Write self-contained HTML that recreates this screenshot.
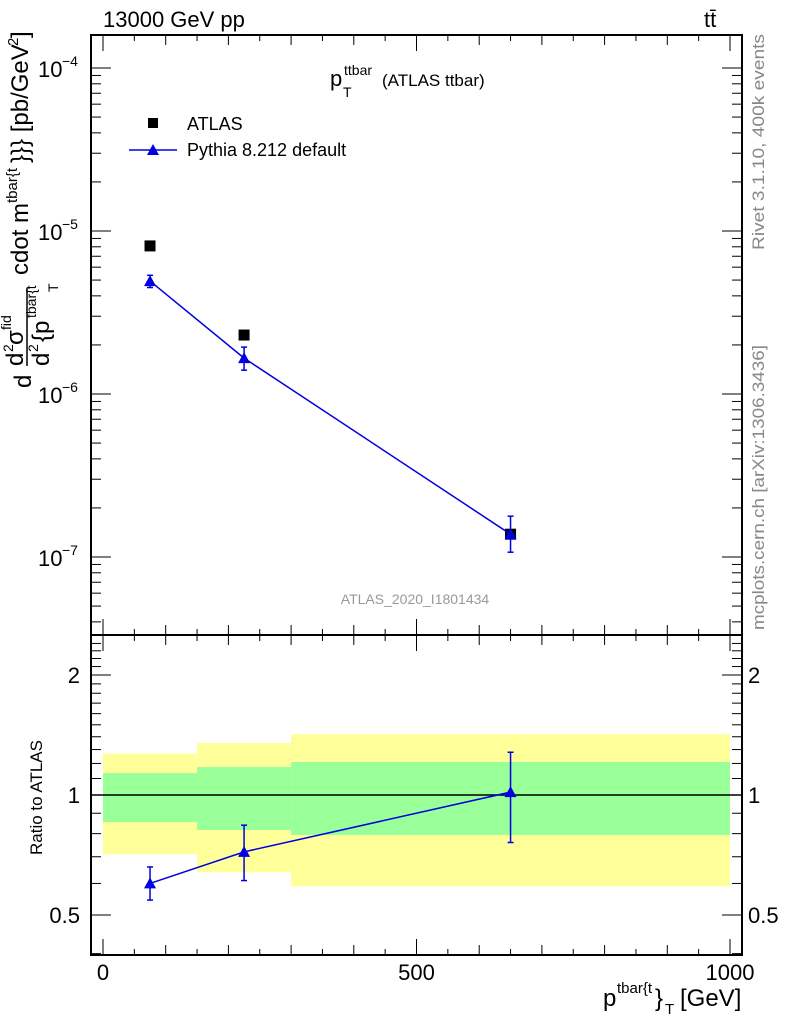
<!DOCTYPE html>
<html><head><meta charset="utf-8"><style>
html,body{margin:0;padding:0;background:#fff;}
svg{display:block;font-family:"Liberation Sans",sans-serif;}
</style></head><body>
<svg id="chart" width="786" height="1024" viewBox="0 0 786 1024" xmlns="http://www.w3.org/2000/svg">
<g id="bands"></g>
<g id="axes"></g>
<g id="marks"></g>
<text x="103" y="27" font-size="22">13000 GeV pp</text>
<text x="704" y="27" font-size="22">tt̄</text>
<g>
<text x="330" y="86" font-size="22">p</text>
<text x="344" y="75" font-size="14">ttbar</text>
<text x="343" y="97" font-size="14">T</text>
<text x="382" y="86" font-size="17">(ATLAS ttbar)</text>
</g>
<text x="415" y="604" font-size="14" fill="#999" text-anchor="middle">ATLAS_2020_I1801434</text>
<text transform="translate(764,250) rotate(-90)" font-size="17" fill="#888" textLength="216" lengthAdjust="spacingAndGlyphs">Rivet 3.1.10,  400k events</text>
<text transform="translate(764,630) rotate(-90)" font-size="17" fill="#888" textLength="285" lengthAdjust="spacingAndGlyphs">mcplots.cern.ch [arXiv:1306.3436]</text>
<g transform="rotate(-90)" font-size="24">
<text x="-388" y="31">d</text>
<text x="-366" y="23">d</text>
<text x="-352" y="13" font-size="14">2</text>
<text x="-345" y="23">σ</text>
<text x="-330" y="11" font-size="14">fid</text>
<line x1="-366" y1="27" x2="-288" y2="27" stroke="#000" stroke-width="1.5"/>
<text x="-366" y="49">d</text>
<text x="-352" y="38" font-size="14">2</text>
<text x="-342" y="49">{p</text>
<text x="-318" y="36" font-size="14">tbar{t</text>
<text x="-292" y="58" font-size="14">T</text>
<text x="-275" y="28">cdot m</text>
<text x="-203" y="17" font-size="15">tbar{t</text>
<text x="-163" y="28">}}} [pb/GeV</text>
<text x="-46" y="18" font-size="15">2</text>
<text x="-38" y="28">]</text>
</g>
<text transform="translate(42,855) rotate(-90)" font-size="17">Ratio to ATLAS</text>
<g font-size="24">
<text x="603" y="1006">p</text>
<text x="617" y="993" font-size="15">tbar{t</text>
<text x="655" y="1006">}</text>
<text x="665" y="1014" font-size="15">T</text>
<text x="680" y="1006">[GeV]</text>
</g>
<g>
<rect x="148" y="118" width="10" height="10" fill="#000"/>
<text x="187" y="130" font-size="18">ATLAS</text>
<line x1="129" y1="150" x2="177" y2="150" stroke="#0000e0" stroke-width="1.5"/>
<polygon points="153,144 147,155 159,155" fill="#0000e0"/>
<text x="187" y="156" font-size="18">Pythia 8.212 default</text>
</g>
<script>
// ---- data ----
const binEdges = [0, 150, 300, 1000];
const xCenters = [75, 225, 650];
const atlasY = [8.1e-6, 2.3e-6, 1.38e-7];
const pythiaY = [4.93e-6, 1.66e-6, 1.38e-7];
const pythiaErrHi = [5.35e-6, 1.94e-6, 1.78e-7];
const pythiaErrLo = [4.5e-6, 1.4e-6, 1.07e-7];
const ratioY = [0.6, 0.72, 1.017];
const ratioErrHi = [0.66, 0.84, 1.28];
const ratioErrLo = [0.545, 0.61, 0.76];
const greenHi = [1.135, 1.175, 1.21];
const greenLo = [0.855, 0.817, 0.794];
const yellowHi = [1.27, 1.35, 1.42];
const yellowLo = [0.71, 0.64, 0.59];
const xTickLabels = [0, 500, 1000];
const mainDecades = [-4, -5, -6, -7];
const ratioTickLabels = [0.5, 1, 2];

const NS = "http://www.w3.org/2000/svg";
const L = 91, R = 742, T = 35, M = 635, B = 955;
const sx = v => 103 + (v / 1000) * 627;
const sy = v => 68 + (-4 - Math.log10(v)) * 163;
const ry = v => 795 - Math.log2(v) * 120;
function mk(parent, tag, attrs) {
  const el = document.createElementNS(NS, tag);
  for (const k in attrs) el.setAttribute(k, attrs[k]);
  document.getElementById(parent).appendChild(el);
  return el;
}
for (let i = 0; i < xCenters.length; i++) {
  const x0 = sx(binEdges[i]), x1 = sx(binEdges[i + 1]);
  const y = mk('bands', 'rect', {x: x0, y: ry(yellowHi[i]), width: x1 - x0, height: ry(yellowLo[i]) - ry(yellowHi[i]), fill: '#ffff99'});
  
  
  const g = mk('bands', 'rect', {x: x0, y: ry(greenHi[i]), width: x1 - x0, height: ry(greenLo[i]) - ry(greenHi[i]), fill: '#99ff99'});
  
  
}
const s = {stroke: '#000', 'stroke-width': 2, fill: 'none'};
const f1 = mk('axes', 'rect', Object.assign({x: L, y: T, width: R - L, height: M - T}, s));


const f2 = mk('axes', 'rect', Object.assign({x: L, y: M, width: R - L, height: B - M}, s));


function ln(x1, y1, x2, y2, w) { mk('axes', 'line', {x1, y1, x2, y2, stroke: '#000', 'stroke-width': w || 1}); }
for (let v = 0; v <= 1000; v += 50) {
  const x = sx(v);
  const len = v % 500 === 0 ? 16 : (v % 100 === 0 ? 10 : 6);
  [T, M, B].forEach(y => { if (y !== T) ln(x, y, x, y - len); if (y !== B) ln(x, y, x, y + len); });
}
xTickLabels.forEach(v => {
  const t = mk('axes', 'text', {x: sx(v), y: 980, 'font-size': 22, 'text-anchor': 'middle'});
  t.textContent = v;
  
  
});
for (let d = -8; d <= -4; d++) {
  for (let m = 1; m <= 9; m++) {
    const v = m * Math.pow(10, d), y = sy(v);
    if (y < T || y > M) continue;
    const len = m === 1 ? 20 : 10;
    ln(L, y, L + len, y); ln(R, y, R - len, y);
  }
}
mainDecades.forEach(d => {
  const y = sy(Math.pow(10, d));
  const t = mk('axes', 'text', {x: 38, y: y + 9, 'font-size': 22});
  t.textContent = '10';
  
  
  const e = mk('axes', 'text', {x: 62, y: y - 2, 'font-size': 14});
  e.textContent = '\u2212' + (-d);
  
  
});
for (let v = 0.4; v <= 2.5; v += 0.1) {
  const y = ry(v);
  if (y < M || y > B) continue;
  const r = Math.round(v * 10) / 10;
  const len = (r === 0.5 || r === 1 || r === 2) ? 20 : 10;
  ln(L, y, L + len, y); ln(R, y, R - len, y);
}
ratioTickLabels.forEach(v => {
  [[80, 'end'], [748, 'start']].forEach(([x, a]) => {
    const t = mk('axes', 'text', {x, y: ry(v) + 8, 'font-size': 22, 'text-anchor': a});
    t.textContent = v;
    
    
  });
});
ln(L, ry(1), R, ry(1), 1.5);
const blue = '#0000e0';
function series(yf, vals, hi, lo, nm) {
  const pts = xCenters.map((x, i) => sx(x) + ',' + yf(vals[i])).join(' ');
  const pl = mk('marks', 'polyline', {points: pts, stroke: blue, 'stroke-width': 1.5, fill: 'none'});
  
  
  xCenters.forEach((xv, i) => {
    const x = sx(xv), y = yf(vals[i]), yh = yf(hi[i]), yl = yf(lo[i]);
    mk('marks', 'line', {x1: x, y1: yh, x2: x, y2: yl, stroke: blue, 'stroke-width': 1.5});
    mk('marks', 'line', {x1: x - 3, y1: yh, x2: x + 3, y2: yh, stroke: blue, 'stroke-width': 1.5});
    mk('marks', 'line', {x1: x - 3, y1: yl, x2: x + 3, y2: yl, stroke: blue, 'stroke-width': 1.5});
    const p = mk('marks', 'polygon', {points: `${x},${y - 6} ${x - 6},${y + 5} ${x + 6},${y + 5}`, fill: blue});
    
    
  });
}
xCenters.forEach((xv, i) => {
  const r = mk('marks', 'rect', {x: sx(xv) - 5.5, y: sy(atlasY[i]) - 5.5, width: 11, height: 11, fill: '#000'});
  
  
});
series(sy, pythiaY, pythiaErrHi, pythiaErrLo, 'pythia');
series(ry, ratioY, ratioErrHi, ratioErrLo, 'pythia-ratio');
</script>
</svg>
</body></html>
